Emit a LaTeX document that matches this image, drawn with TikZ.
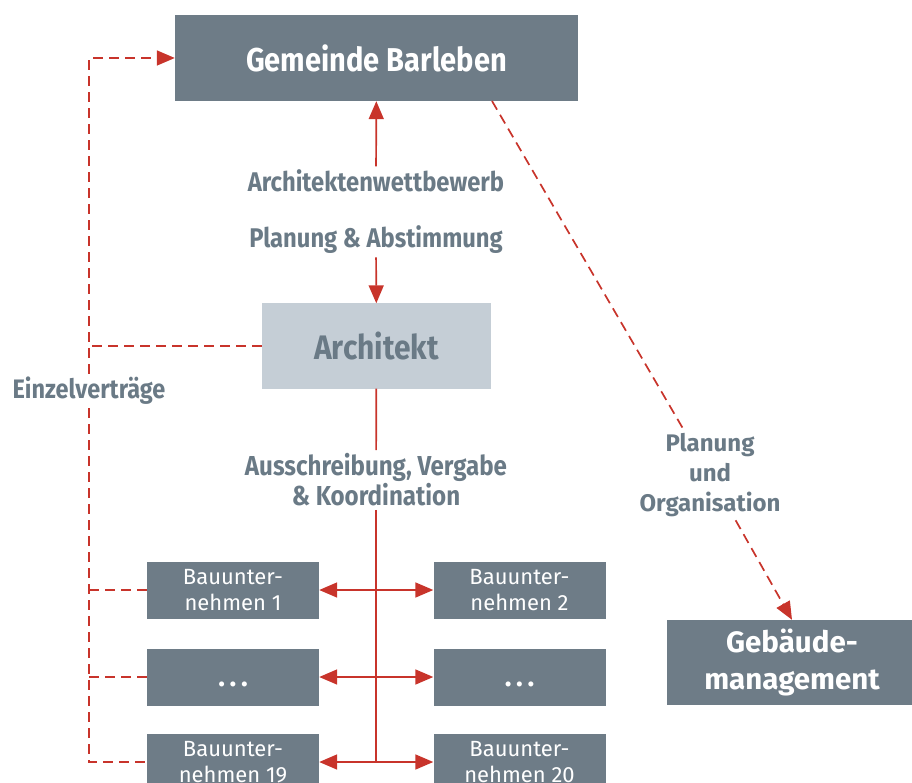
\documentclass[tikz,border=0pt]{standalone}
\usepackage{fontspec}
\setmainfont{Fira Sans}
\newfontfamily\condfont{Fira Sans}[FakeStretch=0.88]
\usetikzlibrary{arrows.meta,positioning,calc}
\definecolor{boxgray}{HTML}{6E7C87}
\definecolor{archfill}{HTML}{C5CED6}
\definecolor{labelgray}{HTML}{6A7A86}
\definecolor{linered}{HTML}{C8342B}

\begin{document}
\begin{tikzpicture}[x=1pt, y=-1pt, >={Triangle[length=18pt,width=15pt]},
  box/.style={fill=boxgray, text=white, inner sep=0pt, align=center},
  bau/.style={box, minimum width=172, minimum height=57, font=\fontsize{22}{26}\selectfont},
  lbl/.style={text=labelgray, align=center, font=\condfont\bfseries\fontsize{27}{30}\selectfont},
  link/.style={draw=linered, line width=1.7pt},
  dashlink/.style={link, dash pattern=on 10pt off 6pt}]
  \useasboundingbox (0,0) rectangle (912,783);
  % boxes
  \node[box, minimum width=403, minimum height=86,
    font=\condfont\bfseries\fontsize{33}{36}\selectfont] (gem) at (376.5,58) {Gemeinde Barleben};
  \node[box, fill=archfill, text=labelgray, minimum width=229, minimum height=85,
    font=\condfont\bfseries\fontsize{34}{36}\selectfont] (arch) at (376.5,346) {Architekt};
  \node[bau] (b1l) at (233,590) {Bauunter-\\nehmen 1};
  \node[bau] (b1r) at (519.5,590) {Bauunter-\\nehmen 2};
  \node[bau, font=\bfseries\fontsize{28}{30}\selectfont] (b2l) at (233,677) {\strut\raisebox{-3pt}{.\,.\,.}};
  \node[bau, font=\bfseries\fontsize{28}{30}\selectfont] (b2r) at (519.5,677) {\strut\raisebox{-3pt}{.\,.\,.}};
  \node[bau] (b3l) at (233,762) {Bauunter-\\nehmen 19};
  \node[bau] (b3r) at (519.5,762) {Bauunter-\\nehmen 20};
  \node[box, minimum width=250, minimum height=85,
    font=\bfseries\fontsize{29.5}{37}\selectfont] (geb) at (792,662.5) {Gebäude-\\management};
  % labels
  \node[lbl] (arbw) at (376,181) {Architektenwettbewerb};
  \node[lbl] (plab) at (376,240) {Planung \& Abstimmung};
  \node[lbl, font=\condfont\bfseries\fontsize{27.4}{30}\selectfont] (ausv) at (376,480) {Ausschreibung, Vergabe\\\& Koordination};
  \node[lbl, font=\bfseries\fontsize{24}{30}\selectfont] (pou) at (710,475) {Planung\\und\\Organisation};
  \node[lbl, font=\condfont\bfseries\fontsize{26.7}{30}\selectfont] (einz) at (89,391) {Einzelverträge};
  % connectors
  \draw[link, ->] (arbw) -- (gem);
  \draw[link, ->] (plab) -- (arch);
  \draw[link] (arch) -- (ausv);
  \draw[link] (ausv) -- (ausv.south |- b3l);
  \draw[link, <->] (b1l) -- (b1r);
  \draw[link, <->] (b2l) -- (b2r);
  \draw[link, <->] (b3l) -- (b3r);
  \coordinate (gse) at (492,101);
  \draw[dashlink] (gse) -- (pou);
  \draw[dashlink, ->] (pou) -- (geb.north);
  \draw[dashlink, ->] (einz) |- (gem.west);
  \draw[dashlink] (einz) |- (b3l.west);
  \draw[dashlink] (arch.west) -- (arch.west -| einz);
  \draw[dashlink] (b1l.west) -- (b1l.west -| einz);
  \draw[dashlink] (b2l.west) -- (b2l.west -| einz);
\end{tikzpicture}
\end{document}
